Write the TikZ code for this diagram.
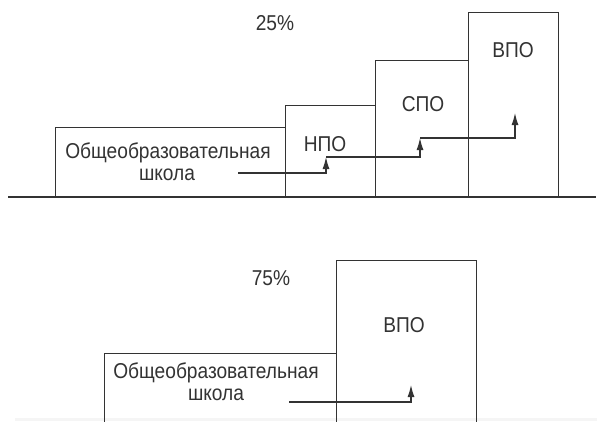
\documentclass[tikz,border=0pt]{standalone}
\usepackage{fontspec}
\setmainfont{Liberation Sans}[FakeStretch=0.89]
\usetikzlibrary{arrows.meta}
\definecolor{ink}{HTML}{333333}
\definecolor{ln}{HTML}{333333}
\begin{document}
\begin{tikzpicture}[x=1pt,y=-1pt,
  box/.style={draw=ln,line width=1.2pt,inner sep=0pt,anchor=south west},
  lbl/.style={text=ink,inner sep=0pt,font=\fontsize{21.5}{24}\selectfont},
  arr/.style={draw=ln,line width=1.2pt,-{Latex[length=12pt,width=7pt]}},
  ground/.style={draw=ln,line width=1.3pt}]
\useasboundingbox[fill=white] (0,0) rectangle (597,421);
\fill[gray!8] (15,418) rectangle (597,421);
% ---- top diagram
\node[box,minimum width=230pt,minimum height=69pt] (school1) at (55,197) {};
\node[box,minimum width=90pt,minimum height=91pt] (npo) at (285,197) {};
\node[box,minimum width=93pt,minimum height=136pt] (spo) at (375,197) {};
\node[box,minimum width=90pt,minimum height=184pt] (vpo1) at (468,197) {};
\coordinate (gL) at (8,197);
\coordinate (gR) at (596,197);
\draw[ground] (gL) -- (gR);
\node[lbl] (p25) at (275,23) {25\%};
\node[lbl] (tvpo1) at (513,50) {ВПО};
\node[lbl] (tspo) at (423,104) {СПО};
\node[lbl] (tnpo) at (325,144) {НПО};
\node[lbl] (tsch1a) at (168,153) {Общеобразовательная};
\node[lbl] (tsch1b) at (167,175) {школа};
\coordinate (s1) at (238,173);
\coordinate (e1) at (326,157);
\coordinate (s2) at (326,157);
\coordinate (e2) at (420,138);
\coordinate (s3) at (420,138);
\coordinate (e3) at (515,113);
\draw[arr] (s1) -| (e1);
\draw[arr] (s2) -| (e2);
\draw[arr] (s3) -| (e3);
% ---- bottom diagram
\node[box,minimum width=232pt,minimum height=70pt] (school2) at (104,424) {};
\node[box,minimum width=140pt,minimum height=163pt] (vpo2) at (336,424) {};
\node[lbl] (p75) at (271,278) {75\%};
\node[lbl] (tvpo2) at (404,325) {ВПО};
\node[lbl] (tsch2a) at (216,373) {Общеобразовательная};
\node[lbl] (tsch2b) at (216,395) {школа};
\coordinate (s4) at (289,402);
\coordinate (e4) at (411,385);
\draw[arr] (s4) -| (e4);
\end{tikzpicture}
\end{document}
